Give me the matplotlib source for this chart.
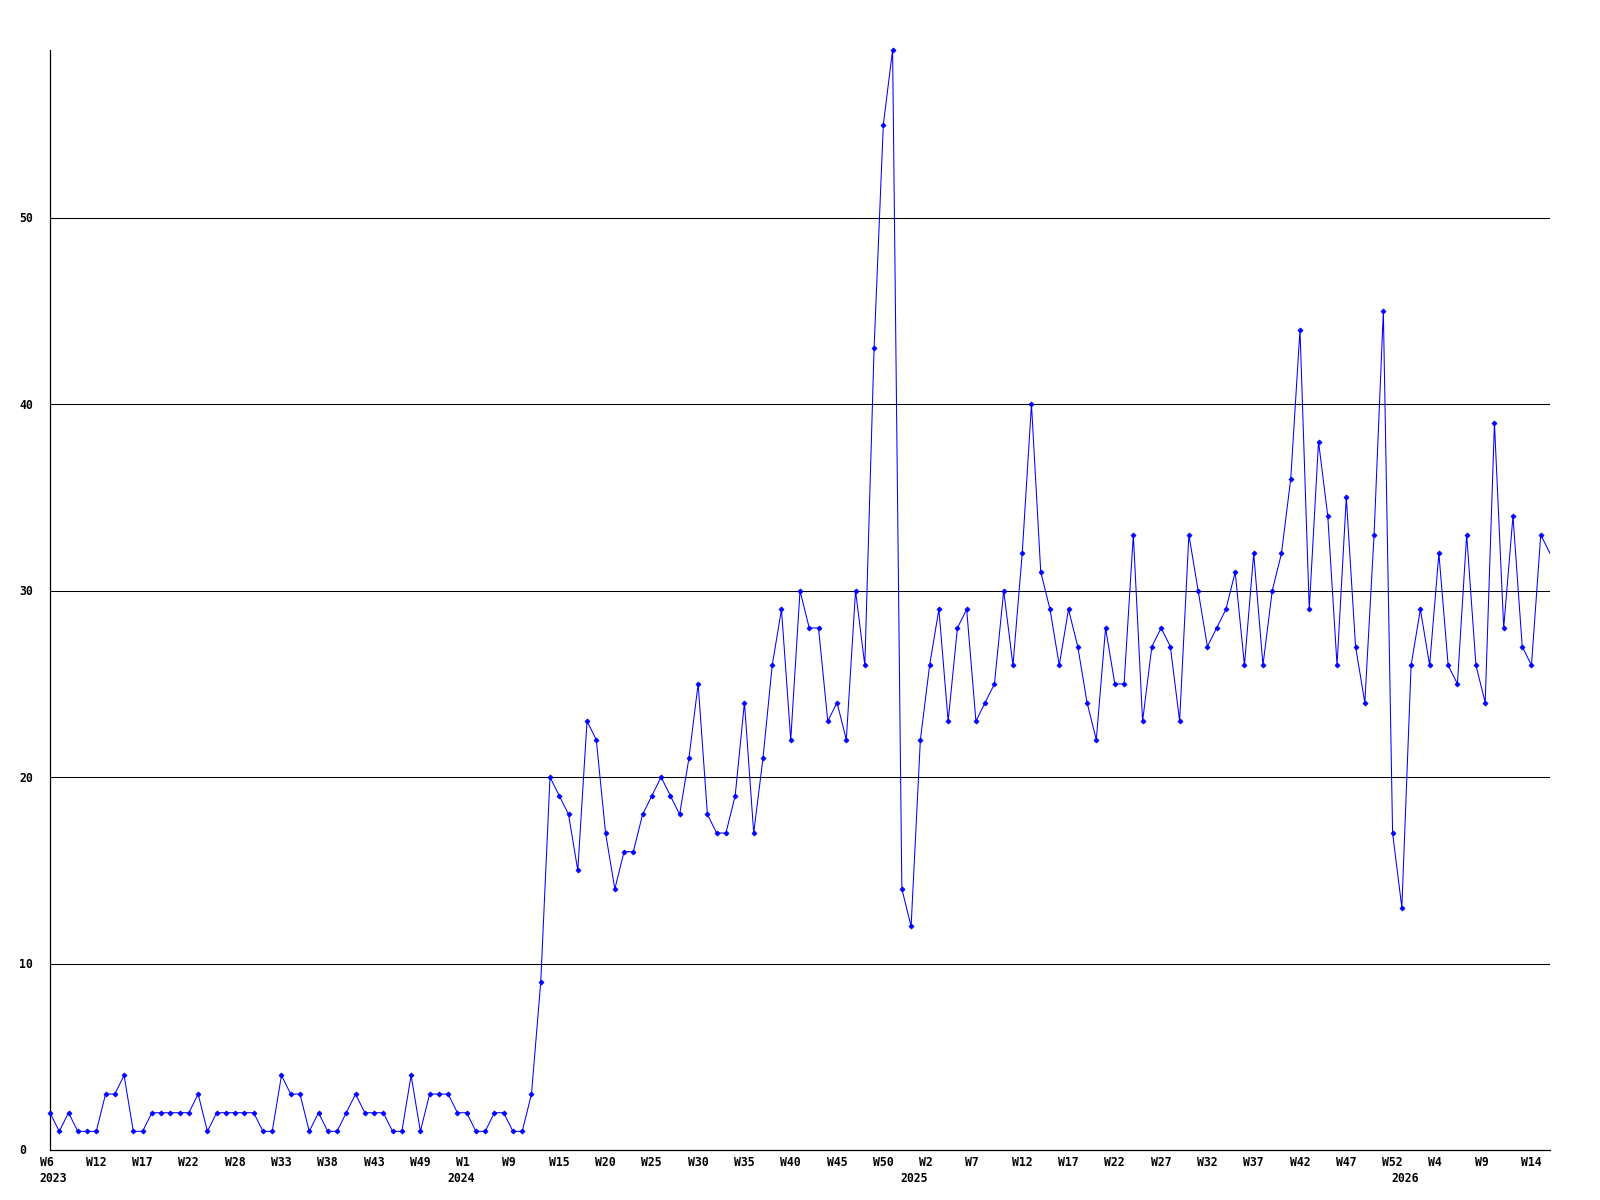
import matplotlib
matplotlib.use("Agg")
import matplotlib.pyplot as plt
import matplotlib.transforms as mtransforms
import numpy as np

# ---- data ----
values = [
    2, 1, 2, 1, 1, 1, 3, 3, 4, 1, 1, 2, 2, 2, 2, 2, 3, 1, 2, 2,
    2, 2, 2, 1, 1, 4, 3, 3, 1, 2, 1, 1, 2, 3, 2, 2, 2, 1, 1, 4,
    1, 3, 3, 3, 2, 2, 1, 1, 2, 2, 1, 1, 3,
    9, 20, 19, 18, 15, 23, 22, 17, 14, 16,
    16, 18, 19, 20, 19, 18, 21, 25, 18, 17,
    17, 19, 24, 17, 21, 26, 29, 22, 30, 28,
    28, 23, 24, 22, 30, 26, 43, 55, 59, 14,
    12, 22, 26, 29, 23, 28, 29, 23, 24, 25,
    30, 26, 32, 40, 31, 29, 26, 29, 27, 24,
    22, 28, 25, 25, 33, 23, 27, 28, 27, 23,
    33, 30, 27, 28, 29, 31, 26, 32, 26, 30,
    32, 36, 44, 29, 38, 34, 26, 35, 27, 24,
    33, 45, 17, 13, 26, 29, 26, 32, 26, 25,
    33, 26, 24, 39, 28, 34, 27, 26, 33, 32,
]
week_labels = ["W6", "W12", "W17", "W22", "W28", "W33", "W38", "W43", "W49",
               "W1", "W9", "W15", "W20", "W25", "W30", "W35", "W40", "W45",
               "W50", "W2", "W7", "W12", "W17", "W22", "W27", "W32", "W37",
               "W42", "W47", "W52", "W4", "W9", "W14"]
week_label_pos = list(range(0, 161, 5))
year_labels = ["2023", "2024", "2025", "2026"]
year_label_pos = [0, 44, 93, 146]
y_ticks = [0, 10, 20, 30, 40, 50]

x = np.arange(len(values))

fig = plt.figure(figsize=(16, 12), dpi=100)
W, H = 1600, 1200
ax = fig.add_axes([50 / W, 50 / H, 1500 / W, 1100 / H])
ax.set_xlim(0, len(values) - 1)
ax.set_ylim(0, max(values))

# grid lines
for v in y_ticks[1:]:
    ax.axhline(v, color="black", lw=0.75, zorder=1)

ax.plot(x, values, color="#0000ff", lw=0.75, zorder=3)
ax.plot(x[:-1], values[:-1], linestyle="none", color="#0000ff", marker="D",
        markersize=2.6, markeredgewidth=0.5, zorder=4, clip_on=False)

for s in ["top", "right"]:
    ax.spines[s].set_visible(False)
for s in ["left", "bottom"]:
    ax.spines[s].set_color("black")
    ax.spines[s].set_linewidth(0.9)
ax.set_xticks([])
ax.set_yticks([])

font = dict(family="DejaVu Sans Mono", weight="bold", size=8.3, color="black")
dpi = fig.dpi

# week labels
xblend = mtransforms.blended_transform_factory(ax.transData, ax.transAxes)
off_w = mtransforms.ScaledTranslation(-10.5 / dpi, -16 / dpi, fig.dpi_scale_trans)
for p, lab in zip(week_label_pos, week_labels):
    ax.text(p, 0, lab, transform=xblend + off_w, ha="left", va="baseline",
            clip_on=False, **font)
off_y = mtransforms.ScaledTranslation(-10.5 / dpi, -31.7 / dpi, fig.dpi_scale_trans)
for p, lab in zip(year_label_pos, year_labels):
    ax.text(p, 0, lab, transform=xblend + off_y, ha="left", va="baseline",
            clip_on=False, **font)

# y labels
yblend = mtransforms.blended_transform_factory(ax.transAxes, ax.transData)
off_l = mtransforms.ScaledTranslation(-31 / dpi, -4.4 / dpi, fig.dpi_scale_trans)
for v in y_ticks:
    ax.text(0, v, str(v), transform=yblend + off_l, ha="left", va="baseline",
            clip_on=False, **font)

fig.savefig("out.png", dpi=100)
